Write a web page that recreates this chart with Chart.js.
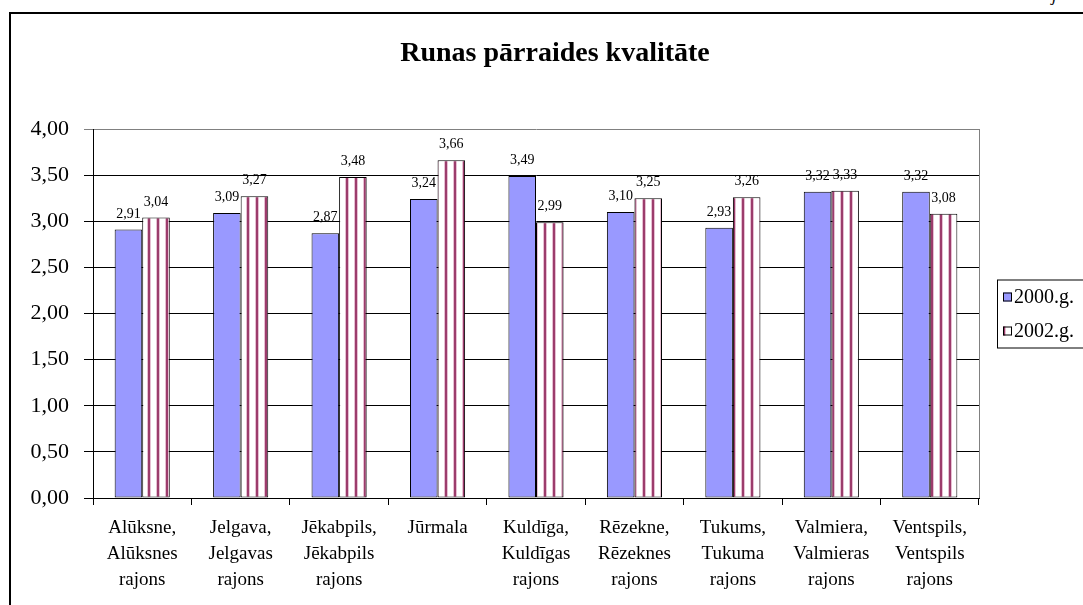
<!DOCTYPE html>
<html>
<head>
<meta charset="utf-8">
<script src="https://cdn.jsdelivr.net/npm/chart.js@4/dist/chart.umd.min.js"></script>
<style>
  html, body { margin: 0; padding: 0; background: #fff; overflow: hidden; }
  #wrap { position: relative; width: 1083px; height: 605px; overflow: hidden; }
  #frame { position: absolute; left: 9px; top: 12px; width: 2000px; height: 2000px; border: 2px solid #000; }
  #corner { position: absolute; left: 1052px; top: -14px; font: italic 17px 'Liberation Serif', serif; }
  canvas { position: absolute; left: 0; top: 0; }
</style>
</head>
<body>
<div id="wrap">
  <div id="frame"></div>
  <div id="corner">j</div>
  <canvas id="kvalChart" width="1083" height="605"></canvas>
</div>
<script>
// dati
const regions = [
  ['Alūksne,', 'Alūksnes', 'rajons'],
  ['Jelgava,', 'Jelgavas', 'rajons'],
  ['Jēkabpils,', 'Jēkabpils', 'rajons'],
  ['Jūrmala'],
  ['Kuldīga,', 'Kuldīgas', 'rajons'],
  ['Rēzekne,', 'Rēzeknes', 'rajons'],
  ['Tukums,', 'Tukuma', 'rajons'],
  ['Valmiera,', 'Valmieras', 'rajons'],
  ['Ventspils,', 'Ventspils', 'rajons']
];
const values2000 = [2.91, 3.09, 2.87, 3.24, 3.49, 3.10, 2.93, 3.32, 3.32];
const values2002 = [3.04, 3.27, 3.48, 3.66, 2.99, 3.25, 3.26, 3.33, 3.08];
const seriesNames = ['2000.g.', '2002.g.'];
const chartTitle = 'Runas pārraides kvalitāte';

const SERIF = "'Liberation Serif', 'Times New Roman', serif";

// svītrots raksts 2002. gadam
function makeStripes() {
  const c = document.createElement('canvas');
  c.width = 9; c.height = 4;
  const g = c.getContext('2d');
  g.fillStyle = '#ffffff';
  g.fillRect(0, 0, 9, 4);
  g.fillStyle = '#e6bfd2';
  g.fillRect(3, 0, 1, 4);
  g.fillRect(6, 0, 1, 4);
  g.fillStyle = '#9c3c6c';
  g.fillRect(4, 0, 2, 4);
  return g.createPattern(c, 'repeat');
}
const stripes = makeStripes();

const fmt = v => v.toFixed(2).replace('.', ',');

// vērtību uzraksti virs stabiņiem
const valueLabels = {
  id: 'valueLabels',
  afterDatasetsDraw(chart) {
    const ctx = chart.ctx;
    ctx.save();
    ctx.font = '14px ' + SERIF;
    ctx.fillStyle = '#000';
    ctx.textAlign = 'center';
    ctx.textBaseline = 'alphabetic';
    chart.data.datasets.forEach((ds, i) => {
      chart.getDatasetMeta(i).data.forEach((bar, j) => {
        ctx.fillText(fmt(ds.data[j]), bar.x, bar.y - 12);
      });
    });
    ctx.restore();
  }
};

// virsraksts (centrēts pēc visa diagrammas objekta, kas turpinās aiz labās malas)
const topTitle = {
  id: 'topTitle',
  afterDraw(chart) {
    const ctx = chart.ctx;
    ctx.save();
    ctx.font = 'bold 28px ' + SERIF;
    ctx.fillStyle = '#000';
    ctx.textAlign = 'center';
    ctx.textBaseline = 'alphabetic';
    ctx.fillText(chartTitle, 555, 61);
    ctx.restore();
  }
};

// pelēkā rāmja labā mala
const plotFrame = {
  id: 'plotFrame',
  afterDraw(chart) {
    const a = chart.chartArea;
    const ctx = chart.ctx;
    ctx.save();
    ctx.strokeStyle = '#808080';
    ctx.lineWidth = 1;
    ctx.beginPath();
    ctx.moveTo(a.right + 0.5, a.top);
    ctx.lineTo(a.right + 0.5, a.bottom);
    ctx.stroke();
    ctx.restore();
  }
};

// leģenda ar rāmi
const boxLegend = {
  id: 'boxLegend',
  afterDraw(chart) {
    const a = chart.chartArea;
    const ctx = chart.ctx;
    const mid = (a.top + a.bottom) / 2;
    const x0 = a.right + 18;
    const y0 = mid - 34;
    ctx.save();
    ctx.strokeStyle = '#000';
    ctx.lineWidth = 1;
    ctx.strokeRect(x0 + 0.5, y0 + 0.5, 300, 68);
    ctx.font = '20px ' + SERIF;
    ctx.textBaseline = 'middle';
    chart.data.datasets.forEach((ds, i) => {
      const cy = y0 + 17 + i * 34;
      ctx.fillStyle = ds.backgroundColor;
      ctx.fillRect(x0 + 6, cy - 4, 9, 9);
      ctx.strokeRect(x0 + 6.5, cy - 3.5, 8, 8);
      ctx.fillStyle = '#000';
      ctx.fillText(ds.label, x0 + 17, cy + 1);
    });
    ctx.restore();
  }
};

new Chart(document.getElementById('kvalChart'), {
  type: 'bar',
  data: {
    labels: regions,
    datasets: [
      {
        label: seriesNames[0],
        data: values2000,
        backgroundColor: '#9999ff',
        borderColor: '#000',
        borderWidth: 1,
        borderSkipped: false
      },
      {
        label: seriesNames[1],
        data: values2002,
        backgroundColor: stripes,
        borderColor: '#000',
        borderWidth: 1,
        borderSkipped: false
      }
    ]
  },
  options: {
    responsive: false,
    animation: false,
    events: [],
    categoryPercentage: 0.56,
    barPercentage: 1,
    layout: { padding: { left: 0, right: 104, top: 129, bottom: 0 } },
    plugins: {
      legend: { display: false },
      tooltip: { enabled: false },
      title: { display: false }
    },
    scales: {
      x: {
        offset: true,
        grid: { offset: true, drawOnChartArea: false, color: '#000', tickLength: 7 },
        border: { color: '#000', width: 1 },
        ticks: {
          color: '#000',
          font: { family: SERIF, size: 19, lineHeight: 1.37 },
          padding: 10,
          maxRotation: 0,
          autoSkip: false
        },
        afterFit(scale) { scale.height = 107; }
      },
      y: {
        min: 0,
        max: 4,
        grid: {
          color: c => (c.tick && c.tick.value === 4 ? '#808080' : '#000'),
          tickLength: 9
        },
        border: { color: '#000', width: 1 },
        ticks: {
          stepSize: 0.5,
          color: '#000',
          font: { family: SERIF, size: 22 },
          padding: 15,
          callback: v => fmt(v)
        },
        afterFit(scale) { scale.width = 93; }
      }
    }
  },
  plugins: [valueLabels, topTitle, plotFrame, boxLegend]
});
</script>
</body>
</html>
